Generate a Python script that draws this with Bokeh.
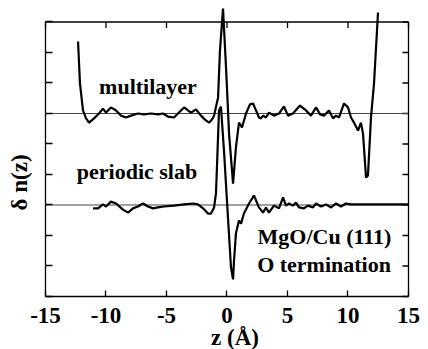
import math
from bokeh.plotting import figure
from bokeh.models import Range1d, LinearAxis, FixedTicker, Label, CustomJSTickFormatter
from bokeh.embed import file_html
from bokeh.resources import INLINE

# multilayer curve (offset baseline 6)
multi_z = [-12.31, -12.15, -11.90, -11.65, -11.40, -10.99, -10.58, -10.25, -10.00, -9.59,
           -9.17, -8.76, -8.35, -7.93, -7.36, -6.86, -6.28, -5.70, -5.29, -4.88,
           -4.38, -3.97, -3.55, -3.22, -2.98, -2.56, -2.15, -1.82, -1.49, -1.24,
           -1.07, -0.74, -0.58, -0.33, -0.08, 0.17, 0.50, 0.74, 0.91, 0.99,
           1.24, 1.57, 1.90, 2.15, 2.40, 2.64, 2.81, 2.98, 3.22, 3.47,
           3.88, 4.30, 4.71, 5.04, 5.45, 6.03, 6.53, 6.94, 7.36, 7.69,
           8.02, 8.43, 8.76, 9.01, 9.26, 9.67, 10.00, 10.25, 10.50, 10.83,
           11.07, 11.24, 11.49, 11.65, 11.90, 12.15, 12.48]
multi_dn = [8.36, 6.98, 6.10, 5.84, 5.70, 5.84, 6.00, 6.16, 6.03, 6.20,
            6.10, 5.93, 5.87, 5.93, 6.00, 5.97, 6.00, 5.97, 6.00, 5.90,
            5.87, 6.03, 6.20, 6.10, 6.03, 6.13, 5.93, 5.80, 5.70, 5.80,
            5.93, 6.52, 8.07, 9.44, 7.51, 5.34, 3.70, 4.89, 5.44, 5.70,
            5.54, 6.00, 6.30, 6.33, 6.10, 5.87, 5.84, 5.93, 5.87, 6.03,
            5.93, 6.00, 6.23, 5.93, 6.00, 6.26, 6.10, 5.93, 6.20, 5.97,
            5.93, 6.10, 5.84, 5.93, 5.87, 6.33, 6.20, 5.87, 5.70, 5.44,
            5.70, 5.34, 3.90, 3.97, 5.87, 6.98, 9.31]

# periodic slab curve (offset baseline 3)
slab_z = [-11.07, -10.66, -10.25, -10.00, -9.59, -9.17, -8.60, -8.18, -7.77, -7.36,
          -6.94, -6.53, -6.12, -5.70, -5.21, -4.38, -3.55, -2.81, -2.40, -1.98,
          -1.57, -1.32, -1.07, -0.91, -0.66, -0.50, -0.25, 0.08, 0.33, 0.50,
          0.58, 0.74, 0.99, 1.16, 1.40, 1.82, 2.23, 2.64, 2.98, 3.22,
          3.47, 3.88, 4.30, 4.63, 4.88, 5.12, 5.45, 5.70, 5.95, 6.36,
          6.69, 7.11, 7.36, 7.77, 8.18, 8.60, 9.01, 9.42, 9.83, 10.25,
          11.07, 12.73, 15.00]
slab_dn = [2.89, 2.89, 3.02, 2.95, 3.11, 3.05, 2.85, 2.75, 2.89, 2.95,
           3.05, 2.95, 2.89, 2.92, 2.95, 2.98, 3.02, 3.05, 3.02, 2.89,
           2.72, 2.72, 2.92, 3.38, 6.10, 6.23, 4.79, 2.59, 0.95, 0.56,
           1.18, 2.07, 2.49, 2.39, 2.72, 3.05, 3.31, 2.92, 2.75, 2.92,
           2.75, 2.98, 2.89, 3.25, 2.98, 3.05, 2.98, 3.08, 2.92, 2.89,
           2.98, 2.92, 3.05, 2.95, 3.02, 2.92, 3.05, 2.95, 3.05, 3.02,
           3.02, 3.02, 3.02]

baselines = [6, 3]
x_ticks = [-15, -10, -5, 0, 5, 10, 15]
x_tick_labels = ["-15", "-10", "-5", "0", "5", "10", "15"]
y_ticks = [0, 1, 2, 3, 4, 5, 6, 7, 8, 9]

X_MIN, X_MAX = x_ticks[0], x_ticks[-1]
Y_MIN, Y_MAX = y_ticks[0], y_ticks[-1]

FONT = "Liberation Serif"
FRAME_W = 1.3

# whole canvas is the frame; axes are drawn at fixed data locations
p = figure(width=428, height=349,
           x_range=Range1d(-18.719, 16.653), y_range=Range1d(-1.7377, 9.7049),
           output_backend="svg", toolbar_location=None,
           x_axis_location=None, y_axis_location=None,
           min_border=0)
p.outline_line_color = None
p.xgrid.grid_line_color = None
p.ygrid.grid_line_color = None
p.background_fill_color = "white"
p.border_fill_color = "white"

blank = CustomJSTickFormatter(code="return ''")


def style_axis(ax, tick_in, tick_out, show_labels=False):
    ax.axis_line_color = "black"
    ax.axis_line_width = FRAME_W
    ax.major_tick_line_color = "black"
    ax.major_tick_line_width = FRAME_W
    ax.major_tick_in = tick_in
    ax.major_tick_out = tick_out
    ax.minor_tick_line_color = None
    if not show_labels:
        ax.formatter = blank
        ax.major_label_standoff = 0


bottom = LinearAxis(ticker=FixedTicker(ticks=x_ticks), fixed_location=Y_MIN,
                    bounds=(X_MIN, X_MAX),
                    major_label_overrides=dict(zip(x_ticks, x_tick_labels)))
style_axis(bottom, 6, 0, show_labels=True)
bottom.major_label_text_font = FONT
bottom.major_label_text_font_style = "bold"
bottom.major_label_text_font_size = "23px"
bottom.major_label_text_color = "black"
bottom.major_label_standoff = 11
p.add_layout(bottom, "below")

left = LinearAxis(ticker=FixedTicker(ticks=y_ticks), fixed_location=X_MIN,
                  bounds=(Y_MIN, Y_MAX))
style_axis(left, 7, 0)
p.add_layout(left, "left")

# top and right frame edges with inward ticks
p.segment(x0=[X_MIN, X_MAX], y0=[Y_MAX, Y_MIN], x1=[X_MAX, X_MAX], y1=[Y_MAX, Y_MAX],
          line_color="black", line_width=FRAME_W)
p.ray(x=x_ticks, y=[Y_MAX] * len(x_ticks), length=6, length_units="screen",
      angle=-math.pi / 2, line_color="black", line_width=FRAME_W)
p.ray(x=[X_MAX] * len(y_ticks), y=y_ticks, length=6, length_units="screen",
      angle=math.pi, line_color="black", line_width=FRAME_W)

# zero lines of the two offset curves
p.segment(x0=[X_MIN] * len(baselines), x1=[X_MAX] * len(baselines),
          y0=baselines, y1=baselines, line_color="#444444", line_width=1)

p.line(multi_z, multi_dn, line_color="black", line_width=2.2)
p.line(slab_z, slab_dn, line_color="black", line_width=2.2)


def lab(x, y, text, align="center", size="22px", angle=0.0, baseline="alphabetic"):
    p.add_layout(Label(x=x, y=y, text=text, text_align=align, text_baseline=baseline,
                       text_font=FONT, text_font_style="bold", text_font_size=size,
                       text_color="black", angle=angle))


lab(-6.53, 6.90, "multilayer")
lab(-7.44, 4.10, "periodic slab")
lab(8.06, 1.97, "MgO/Cu (111)")
lab(8.02, 1.05, "O termination")
lab(0.66, -1.34, "z (Å)", size="23px")
lab(-17.19, 3.74, "δ n(z)", size="23px", angle=1.5707963, baseline="middle")

open("out.html", "w").write(file_html(p, INLINE))
